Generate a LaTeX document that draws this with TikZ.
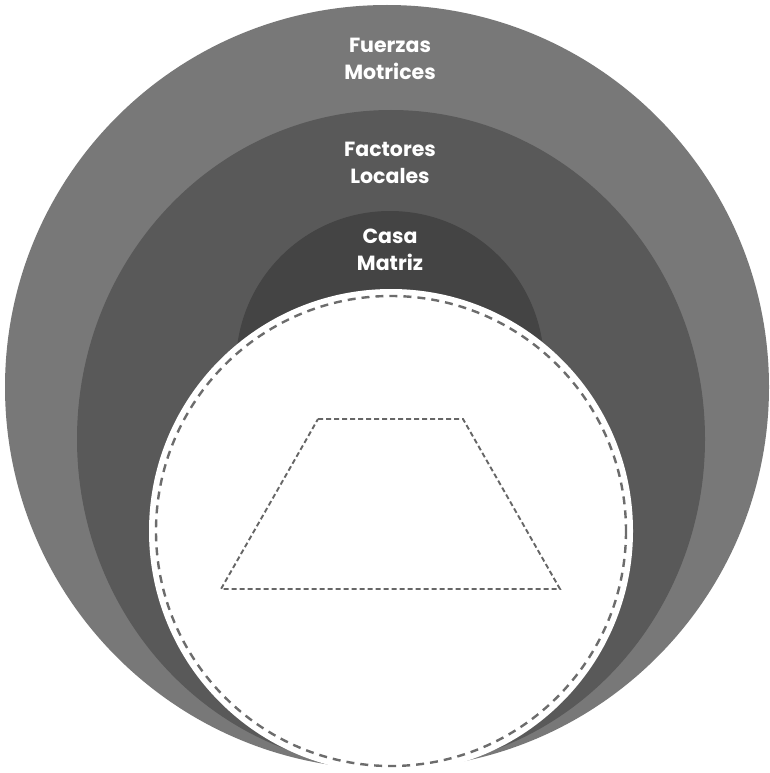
\documentclass[tikz,border=0pt]{standalone}
\usepackage{fontspec}
\setmainfont{Poppins}
\begin{document}
\begin{tikzpicture}[x=1pt,y=-1pt,
  lbl/.style={text=white, font=\fontsize{20.5}{26.5}\selectfont\bfseries, align=center, inner sep=0pt, anchor=north},
  outline/.style={draw=gray!85!black, line width=2.4pt, dash pattern=on 8pt off 6pt},
  trap/.style={draw=gray!80!black, line width=1.9pt, dash pattern=on 5pt off 3pt}]
\definecolor{ringA}{HTML}{787878}
\definecolor{ringB}{HTML}{595959}
\definecolor{ringC}{HTML}{444444}
\fill[white] (0,0) rectangle (769,773);
\useasboundingbox (0,0) rectangle (769,773);
\fill[ringA] (387,387) circle[radius=382];
\fill[ringB] (391,439) ellipse[x radius=314, y radius=329];
\fill[ringC] (390,365) circle[radius=154];
\fill[white] (391,531) circle[radius=242];
\draw[outline] (391,531) circle[radius=235];
\coordinate (tl) at (318,419);
\coordinate (tr) at (463,419);
\coordinate (br) at (560,589);
\coordinate (bl) at (221,589);
\draw[trap] (tl) -- (tr) -- (br) -- (bl) -- cycle;
\node[lbl] (fm) at (390,38) {Fuerzas\\Motrices};
\node[lbl] (fl) at (390,142) {Factores\\Locales};
\node[lbl] (cm) at (390,229) {Casa\\Matriz};
\end{tikzpicture}
\end{document}
